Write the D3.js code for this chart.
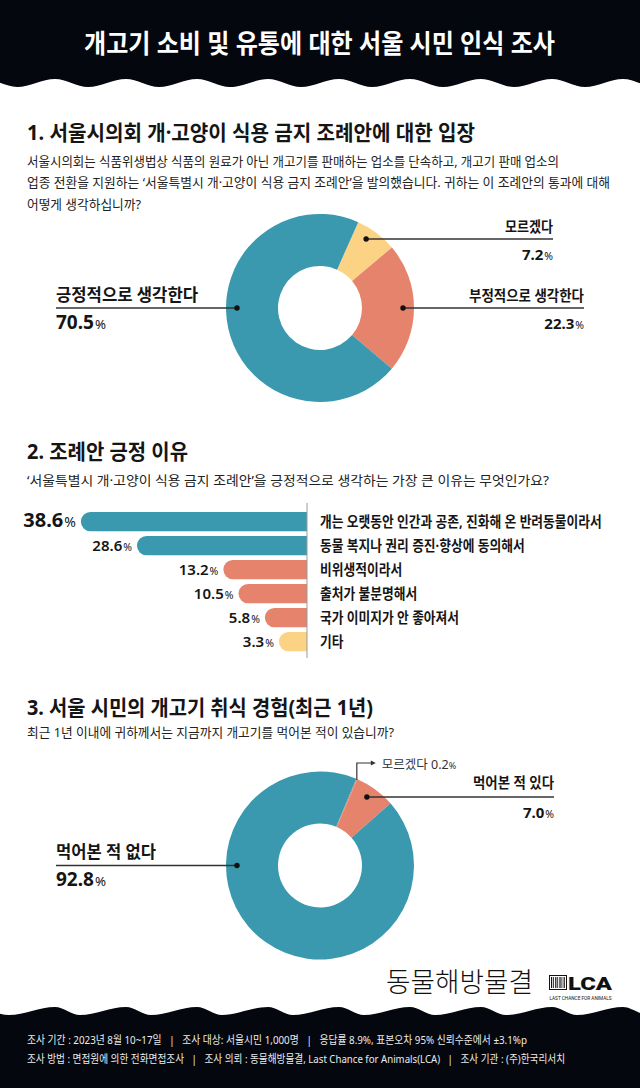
<!DOCTYPE html>
<html><head><meta charset="utf-8">
<script src="https://cdn.jsdelivr.net/npm/d3@7"></script>
<style>
html,body{margin:0;padding:0;background:#fff;}
svg{display:block;font-family:"Noto Sans","Noto Sans CJK KR",sans-serif;}
</style></head><body>
<svg id="chart" width="640" height="1088"></svg>
<script>
// ---------- data ----------
const title = "개고기 소비 및 유통에 대한 서울 시민 인식 조사";

const q1Title = "1. 서울시의회 개·고양이 식용 금지 조례안에 대한 입장";
const q1Text = [
  "서울시의회는 식품위생법상 식품의 원료가 아닌 개고기를 판매하는 업소를 단속하고, 개고기 판매 업소의",
  "업종 전환을 지원하는 ‘서울특별시 개·고양이 식용 금지 조례안’을 발의했습니다. 귀하는 이 조례안의 통과에 대해",
  "어떻게 생각하십니까?"
];
const q1Categories = ["모르겠다", "부정적으로 생각한다", "긍정적으로 생각한다"];
const q1Values = [7.2, 22.3, 70.5];

const q2Title = "2. 조례안 긍정 이유";
const q2Text = "‘서울특별시 개·고양이 식용 금지 조례안’을 긍정적으로 생각하는 가장 큰 이유는 무엇인가요?";
const q2Categories = [
  "개는 오랫동안 인간과 공존, 진화해 온 반려동물이라서",
  "동물 복지나 권리 증진·향상에 동의해서",
  "비위생적이라서",
  "출처가 불분명해서",
  "국가 이미지가 안 좋아져서",
  "기타"
];
const q2Values = [38.6, 28.6, 13.2, 10.5, 5.8, 3.3];

const q3Title = "3. 서울 시민의 개고기 취식 경험(최근 1년)";
const q3Text = "최근 1년 이내에 귀하께서는 지금까지 개고기를 먹어본 적이 있습니까?";
const q3Categories = ["모르겠다", "먹어본 적 있다", "먹어본 적 없다"];
const q3Values = [0.2, 7.0, 92.8];

const footerLines = [
  "조사 기간 : 2023년 8월 10~17일   |   조사 대상: 서울시민 1,000명   |   응답률 8.9%, 표본오차 95% 신뢰수준에서 ±3.1%p",
  "조사 방법 : 면접원에 의한 전화면접조사   |   조사 의뢰 : 동물해방물결, Last Chance for Animals(LCA)   |   조사 기관 : (주)한국리서치"
];
const logoText = "동물해방물결";
const lcaText = "LCA";
const lcaSub = "LAST CHANCE FOR ANIMALS";

// ---------- styles ----------
const C = {teal:"#3A99AE", coral:"#E5836C", yellow:"#FCD385", ink:"#151515", black:"#05070E"};
const q1Colors = [C.yellow, C.coral, C.teal];
const q2Colors = [C.teal, C.teal, C.coral, C.coral, C.coral, C.yellow];
const q3Colors = [C.coral, C.coral, C.teal];

const svg = d3.select("#chart");
const deg = Math.PI / 180;

function addText(g, str, x, y, o) {
  const t = g.append("text").attr("x", x).attr("y", y).attr("dy", "0.36em")
    .attr("font-size", o.size).attr("font-weight", o.weight || 400)
    .attr("fill", o.fill || C.ink).style("white-space", "pre").text(str);
  if (o.w) {
    t.attr("textLength", o.w).attr("lengthAdjust", "spacingAndGlyphs");
    if (o.anchor === "end") t.attr("x", x - o.w);
  } else if (o.cond) {
    const L = t.node().getComputedTextLength() * o.cond;
    t.attr("textLength", L).attr("lengthAdjust", "spacingAndGlyphs");
    if (o.anchor === "end") t.attr("x", x - L);
  } else if (o.anchor) t.attr("text-anchor", o.anchor);
  return t;
}
function addPct(g, v, x, y, o) {
  const t = g.append("text").attr("x", x).attr("y", y).attr("dy", "0.36em")
    .attr("text-anchor", o.anchor || "start")
    .attr("fill", o.fill || C.ink).attr("font-weight", o.weight || 700);
  t.append("tspan").attr("font-size", o.size).text(d3.format(".1f")(v));
  t.append("tspan").attr("font-size", o.size * 0.7).attr("font-weight", 400).attr("dx", 1).text("%");
  return t;
}

// ---------- header / footer waves ----------
const topWave = [], botWave = [];
for (let k = -1; k <= 10; k++) {
  topWave.push([17 + 71 * k, 87], [55 + 71 * k, 79]);
  botWave.push([55 + 71 * k, 1007], [80 + 71 * k, 1015]);
}
svg.append("path")
  .attr("d", d3.area().x(d => d[0]).y0(0).y1(d => d[1]).curve(d3.curveMonotoneX)(topWave))
  .attr("fill", C.black);
svg.append("path")
  .attr("d", d3.area().x(d => d[0]).y0(1088).y1(d => d[1]).curve(d3.curveMonotoneX)(botWave))
  .attr("fill", C.black);

addText(svg, title, 84, 44, {size: 26, weight: 700, fill: "#fff", w: 471});

// ---------- donut helper ----------
function donut(cx, cy, cats, vals, colors, startDeg, labels) {
  const g = svg.append("g").attr("transform", `translate(${cx},${cy})`);
  const s = startDeg * deg;
  const pie = d3.pie().sort(null).value(d => d).startAngle(s).endAngle(s + 2 * Math.PI);
  const arc = d3.arc().innerRadius(42).outerRadius(94);
  const arcs = pie(vals);
  g.selectAll("path.slice").data(arcs).join("path").attr("class", "slice")
    .attr("d", arc).attr("fill", (d, i) => colors[i]);
  labels.forEach(l => {
    const side = l.side;
    const dotR = 83;
    const dx = Math.sqrt(dotR * dotR - l.ly * l.ly) * (side === "right" ? 1 : -1);
    const endX = l.end - cx;
    g.append("line").attr("x1", dx).attr("x2", endX).attr("y1", l.ly).attr("y2", l.ly)
      .attr("stroke", "#333").attr("stroke-width", 1.3);
    g.append("circle").attr("cx", dx).attr("cy", l.ly).attr("r", 2.7).attr("fill", "#111");
    addText(g, cats[l.i], endX, l.ly + l.ny, {size: l.ns, weight: 700, anchor: side === "right" ? "end" : "start", w: l.nw});
    addPct(g, vals[l.i], endX, l.ly + l.py, {size: l.ps, anchor: side === "right" ? "end" : "start"});
  });
  return {g, arcs, arc};
}

// ---------- section 1 ----------
addText(svg, q1Title, 27, 132.5, {size: 21, weight: 700, w: 448});
const q1W = [532, 583, 114];
q1Text.forEach((t, i) => addText(svg, t, 27, 161 + i * 21.5, {size: 13, fill: "#222", w: q1W[i]}));

donut(320, 308, q1Categories, q1Values, q1Colors, 24, [
  {i: 0, side: "right", ly: -69, end: 553, ny: -12, nw: 48, ns: 14.5, py: 15, ps: 15},
  {i: 1, side: "right", ly: 0, end: 584, ny: -12, nw: 115, ns: 14.5, py: 15, ps: 15},
  {i: 2, side: "left", ly: 0, end: 56, ny: -13, nw: 142, ns: 17.5, py: 15, ps: 19}
]);

// ---------- section 2 ----------
addText(svg, q2Title, 27, 451, {size: 21, weight: 700, w: 161});
addText(svg, q2Text, 27, 480, {size: 13, fill: "#222", w: 522});

const axisX = 307;
const y = d3.scaleBand().domain(q2Categories).range([509.6, 653.6]).paddingInner(0.2).paddingOuter(0.1);
const x = d3.scaleLinear().domain([0, 40]).range([axisX, axisX - 224.4]);
const bh = y.bandwidth(), rr = bh / 2;
const bars = svg.append("g");
bars.selectAll("path").data(q2Values).join("path")
  .attr("d", (v, i) => {
    const t = y(q2Categories[i]), xv = x(v);
    return `M${axisX},${t}H${xv}A${rr},${rr} 0 0 0 ${xv},${t + bh}H${axisX}Z`;
  })
  .attr("fill", (v, i) => q2Colors[i]);
svg.append("line").attr("x1", axisX).attr("x2", axisX).attr("y1", 503).attr("y2", 658)
  .attr("stroke", "#9a9a9a").attr("stroke-width", 1);
q2Values.forEach((v, i) => {
  const cy = y(q2Categories[i]) + bh / 2;
  addPct(svg, v, x(v) - rr - 5, cy, {size: i === 0 ? 20 : 15, anchor: "end", weight: i === 0 ? 700 : 600});
  addText(svg, q2Categories[i], 320, cy, {size: 14.5, weight: 700, cond: 0.88});
});

// ---------- section 3 ----------
addText(svg, q3Title, 27, 707.5, {size: 21, weight: 700, w: 346});
addText(svg, q3Text, 27, 732.5, {size: 13, fill: "#222", w: 367});

const d3res = donut(320, 865.5, q3Categories, q3Values, q3Colors, 22.7, [
  {i: 1, side: "right", ly: -68.5, end: 554, ny: -14, nw: 81, ns: 14.5, py: 15, ps: 15},
  {i: 2, side: "left", ly: 0, end: 56, ny: -14, nw: 100, ns: 17.5, py: 14.5, ps: 19}
]);
// small "모르겠다" callout
{
  const a = d3res.arcs[0];
  const mid = (a.startAngle + a.endAngle) / 2;
  const px = 94 * Math.sin(mid), py = -94 * Math.cos(mid);
  const g = d3res.g;
  const yTop = -102.5;
  g.append("path").attr("d", `M${px},${py + 1}V${yTop}H${px + 15}`)
    .attr("fill", "none").attr("stroke", "#333").attr("stroke-width", 1.2);
  g.append("path").attr("d", `M${px + 14},${yTop - 2.5}L${px + 19},${yTop}L${px + 14},${yTop + 2.5}Z`).attr("fill", "#333");
  const t = g.append("text").attr("x", px + 25).attr("y", yTop).attr("dy", "0.36em").attr("fill", "#333");
  t.append("tspan").attr("font-size", 12.5).text(q3Categories[0] + " ");
  t.append("tspan").attr("font-size", 12.5).text(d3.format(".1f")(q3Values[0]));
  t.append("tspan").attr("font-size", 9).text("%");
}

// ---------- logos ----------
addText(svg, logoText, 386, 982, {size: 27, weight: 300, fill: "#111", w: 147});
{
  const g = svg.append("g");
  g.append("rect").attr("x", 549.5).attr("y", 975.5).attr("width", 17).attr("height", 14)
    .attr("fill", "none").attr("stroke", "#111").attr("stroke-width", 1);
  d3.range(7).forEach(k => g.append("rect").attr("x", 551 + k * 2.1).attr("y", 977)
    .attr("width", k % 2 ? 0.8 : 1.2).attr("height", 11).attr("fill", "#111"));
  const t = g.append("text").attr("x", 568).attr("y", 989.5).attr("font-size", 19).attr("font-weight", 900)
    .attr("font-family", "Roboto, 'Noto Sans', sans-serif").attr("fill", "#111").text(lcaText);
  t.attr("textLength", 44).attr("lengthAdjust", "spacingAndGlyphs");
  g.append("text").attr("x", 549.5).attr("y", 999.5).attr("font-size", 4.6).attr("fill", "#111")
    .attr("font-family", "Roboto, sans-serif").attr("textLength", 62).attr("lengthAdjust", "spacingAndGlyphs").text(lcaSub);
}

// ---------- footer ----------
const fw = [500, 538];
footerLines.forEach((t, i) => addText(svg, t, 27, 1040 + i * 19, {size: 11, fill: "#ececec", w: fw[i]}));
</script>
</body></html>
